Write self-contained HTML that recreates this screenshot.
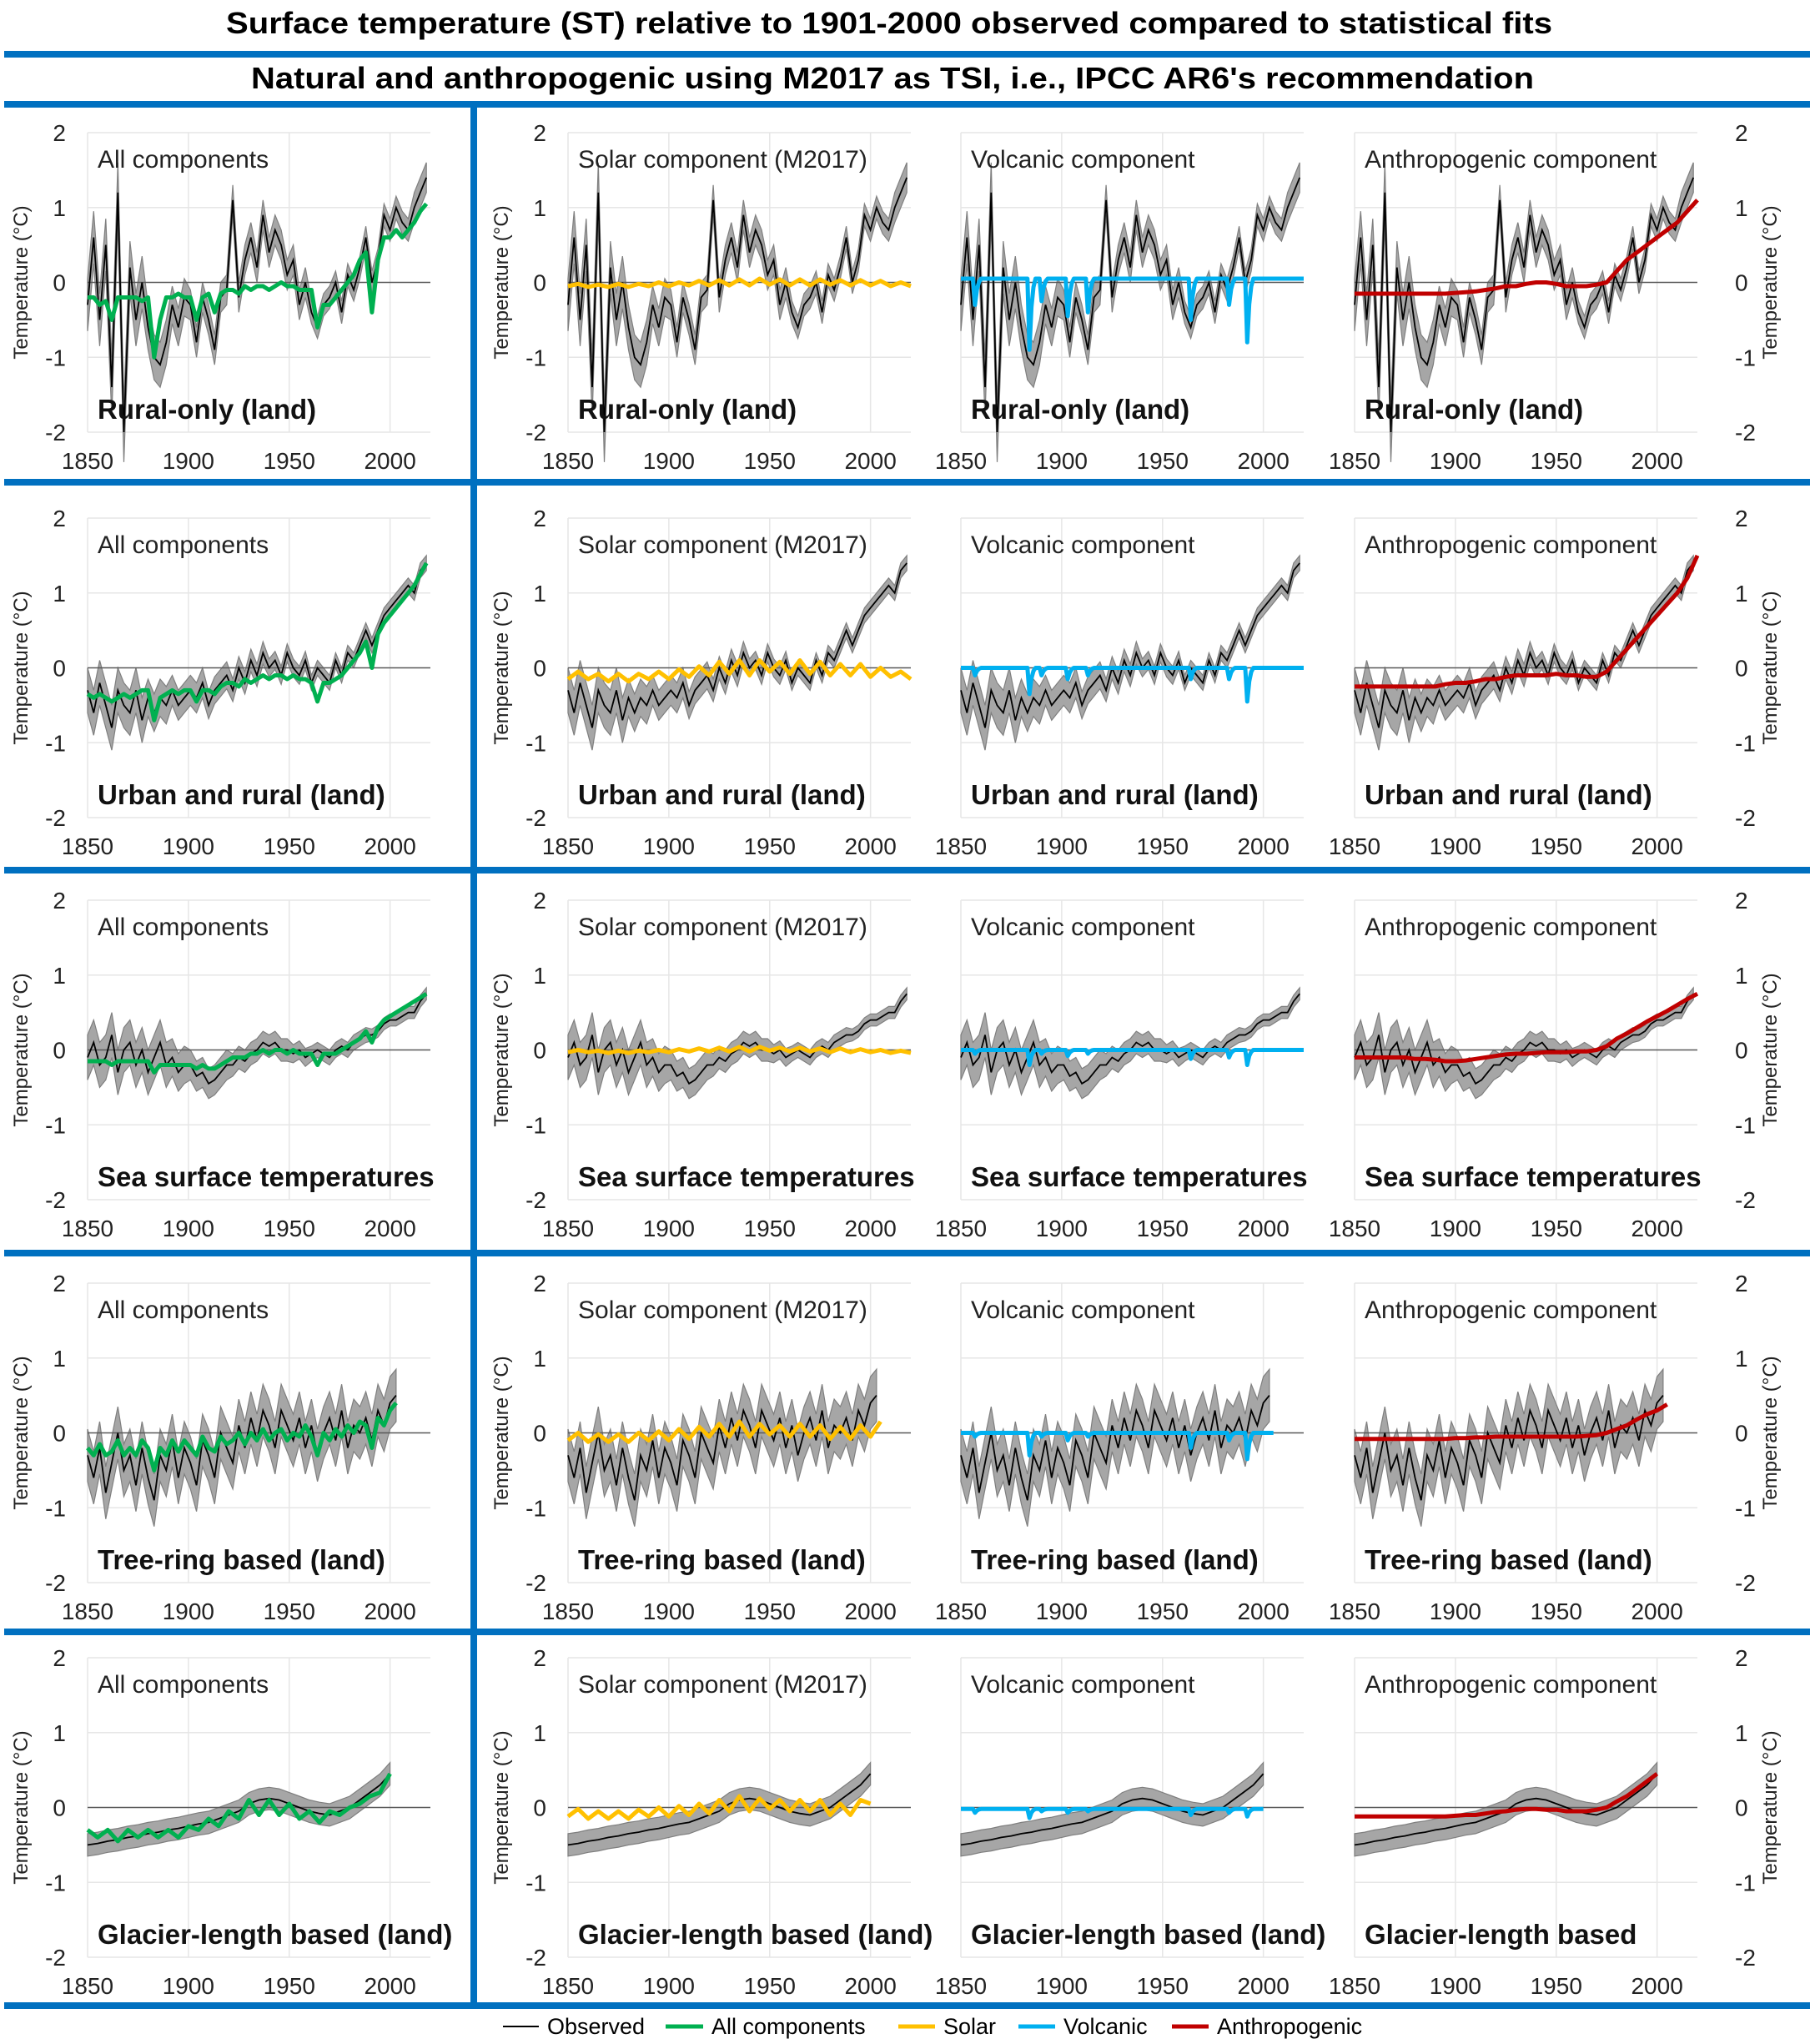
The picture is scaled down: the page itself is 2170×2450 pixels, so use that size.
<!DOCTYPE html>
<html><head><meta charset="utf-8">
<style>
html,body{margin:0;padding:0;background:#fff;}
svg{display:block;font-family:"Liberation Sans",sans-serif;}
</style></head>
<body>
<svg id="fig" width="2170" height="2450" viewBox="0 0 2170 2450" xmlns="http://www.w3.org/2000/svg">
<rect x="0" y="0" width="2170" height="2450" fill="#fff"/>
<text x="1066" y="40" text-anchor="middle" font-size="36" font-weight="bold" textLength="1590" lengthAdjust="spacingAndGlyphs">Surface temperature (ST) relative to 1901-2000  observed compared to statistical fits</text>
<rect x="5" y="61" width="2165" height="8" fill="#0070C0"/>
<text x="1070" y="106" text-anchor="middle" font-size="36" font-weight="bold" textLength="1538" lengthAdjust="spacingAndGlyphs">Natural and anthropogenic using M2017 as TSI, i.e., IPCC AR6's recommendation</text>
<rect x="5" y="121" width="2165" height="8" fill="#0070C0"/>
<rect x="5" y="574" width="2165" height="8" fill="#0070C0"/>
<rect x="5" y="1039" width="2165" height="8" fill="#0070C0"/>
<rect x="5" y="1498" width="2165" height="8" fill="#0070C0"/>
<rect x="5" y="1952" width="2165" height="8" fill="#0070C0"/>
<rect x="5" y="2400" width="2165" height="8" fill="#0070C0"/>
<rect x="564" y="125" width="8" height="2280" fill="#0070C0"/>
<g id="panels"></g>
<g>
<line x1="603" y1="2429" x2="646" y2="2429" stroke="#000" stroke-width="2"/>
<text x="656" y="2438" font-size="27">Observed</text>
<line x1="798" y1="2429" x2="843" y2="2429" stroke="#00B050" stroke-width="5"/>
<text x="853" y="2438" font-size="27">All components</text>
<line x1="1077" y1="2429" x2="1121" y2="2429" stroke="#FFC000" stroke-width="5"/>
<text x="1131" y="2438" font-size="27">Solar</text>
<line x1="1221" y1="2429" x2="1265" y2="2429" stroke="#00B0F0" stroke-width="5"/>
<text x="1275" y="2438" font-size="27">Volcanic</text>
<line x1="1405" y1="2429" x2="1449" y2="2429" stroke="#C00000" stroke-width="5"/>
<text x="1459" y="2438" font-size="27">Anthropogenic</text>
</g>
</svg>
<script>
// ---- data ----
const rowLabels = ['Rural-only (land)','Urban and rural (land)','Sea surface temperatures','Tree-ring based (land)','Glacier-length based (land)'];
const obsStep = [3,3,3,3,5];
const volcEnd = [2020,2020,2020,2005,2000];
const volcYears = [1857,1884,1890,1903,1913,1964,1983,1992];
const xTicks = [1850,1900,1950,2000];
const yTicks = [2,1,0,-1,-2];

const obsRural = [-0.3,0.6,-0.5,0.5,-1.4,1.2,-2.0,0.2,-0.5,0.0,-0.6,-1.0,-1.1,-0.8,-0.3,-0.6,-0.2,-0.3,-0.8,-0.2,-0.5,-0.9,-0.2,-0.1,1.1,-0.2,0.3,0.6,0.2,0.9,0.4,0.7,0.5,0.1,0.3,-0.3,0.0,-0.4,-0.6,-0.3,-0.2,0.0,-0.4,0.1,-0.1,0.2,0.6,0.0,0.3,0.9,0.7,1.0,0.8,0.7,1.0,1.2,1.4];
const obsUrban = [-0.3,-0.6,-0.2,-0.5,-0.8,-0.3,-0.5,-0.6,-0.3,-0.7,-0.4,-0.6,-0.4,-0.5,-0.3,-0.5,-0.4,-0.3,-0.4,-0.2,-0.5,-0.3,-0.2,-0.1,-0.3,0.0,-0.2,0.1,-0.1,0.2,0.0,0.1,-0.1,0.2,0.0,-0.1,0.1,-0.2,0.0,-0.1,-0.2,0.1,-0.1,0.2,0.1,0.3,0.5,0.3,0.5,0.7,0.8,0.9,1.0,1.1,1.0,1.3,1.4];
const obsSST = [-0.1,0.1,-0.2,-0.1,0.2,-0.3,0.0,0.1,-0.2,0.0,-0.3,-0.1,0.1,-0.2,-0.1,-0.3,-0.2,-0.2,-0.35,-0.3,-0.45,-0.4,-0.3,-0.2,-0.2,-0.1,-0.15,-0.05,0.0,0.1,0.05,0.1,0.0,0.0,-0.05,0.0,-0.1,-0.05,0.0,-0.05,-0.1,0.0,0.05,0.0,0.1,0.15,0.2,0.2,0.25,0.35,0.4,0.4,0.45,0.5,0.5,0.65,0.75];
const obsTree = [-0.3,-0.6,-0.2,-0.8,-0.4,0.0,-0.5,-0.3,-0.7,-0.2,-0.6,-0.9,-0.3,-0.5,-0.1,-0.6,-0.2,-0.4,-0.7,-0.1,-0.3,-0.6,0.0,-0.2,-0.4,0.1,-0.2,0.2,-0.1,0.3,0.1,-0.2,0.3,0.1,-0.1,0.2,-0.2,0.1,-0.3,0.0,0.2,-0.1,0.3,-0.2,0.1,0.0,0.2,-0.1,0.3,0.1,0.4,0.5];
const obsGlacier = [-0.5,-0.48,-0.45,-0.43,-0.4,-0.38,-0.35,-0.33,-0.3,-0.28,-0.25,-0.22,-0.2,-0.15,-0.1,-0.05,0.05,0.1,0.12,0.1,0.05,0.0,-0.05,-0.08,-0.1,-0.05,0.0,0.1,0.2,0.3,0.45];

const uncRural = [0.35,0.4,0.35,0.3,0.25,0.2,0.2,0.2,0.2,0.2,0.2,0.15,0.15,0.15,0.15,0.15,0.2,0.2];
const uncUrban = [0.3,0.3,0.3,0.25,0.2,0.2,0.18,0.15,0.15,0.12,0.12,0.1,0.1,0.1,0.1,0.1,0.1,0.1];
const uncSST = [0.3,0.3,0.3,0.3,0.25,0.2,0.2,0.15,0.15,0.15,0.12,0.1,0.1,0.1,0.08,0.08,0.08,0.08];
const uncTree = [0.35,0.35,0.35,0.35,0.35,0.35,0.35,0.35,0.35,0.35,0.35,0.35,0.35,0.35,0.35,0.35,0.35,0.35];
const uncGlacier = [0.15,0.15,0.15,0.15,0.15,0.15,0.15,0.15,0.15,0.15,0.15,0.15,0.15,0.15,0.15,0.15,0.15,0.15];

const allRural = [-0.2,-0.2,-0.3,-0.25,-0.5,-0.2,-0.2,-0.2,-0.2,-0.25,-0.2,-1.0,-0.5,-0.2,-0.2,-0.15,-0.2,-0.2,-0.5,-0.2,-0.15,-0.4,-0.15,-0.1,-0.1,-0.15,-0.05,-0.1,-0.05,-0.05,-0.1,-0.05,0.0,-0.05,-0.05,-0.1,-0.1,-0.1,-0.6,-0.3,-0.3,-0.2,-0.1,0.0,0.1,0.3,0.4,-0.4,0.3,0.6,0.6,0.7,0.6,0.7,0.8,0.95,1.05];
const allUrban = [-0.35,-0.4,-0.35,-0.4,-0.45,-0.4,-0.35,-0.4,-0.35,-0.3,-0.3,-0.7,-0.4,-0.35,-0.3,-0.35,-0.3,-0.3,-0.45,-0.3,-0.3,-0.35,-0.25,-0.2,-0.2,-0.25,-0.15,-0.2,-0.15,-0.1,-0.15,-0.1,-0.1,-0.15,-0.1,-0.15,-0.15,-0.2,-0.45,-0.2,-0.2,-0.15,-0.1,0.0,0.1,0.2,0.35,0.0,0.45,0.6,0.7,0.8,0.9,1.0,1.1,1.25,1.4];
const allSST = [-0.15,-0.15,-0.15,-0.15,-0.2,-0.15,-0.15,-0.15,-0.15,-0.15,-0.15,-0.3,-0.2,-0.2,-0.2,-0.2,-0.2,-0.2,-0.25,-0.2,-0.25,-0.25,-0.2,-0.15,-0.1,-0.1,-0.1,-0.05,-0.05,0.0,-0.05,0.0,0.0,-0.05,0.0,-0.05,-0.05,-0.05,-0.2,-0.05,-0.05,-0.05,0.0,0.05,0.1,0.15,0.25,0.1,0.3,0.4,0.45,0.5,0.55,0.6,0.65,0.7,0.75];
const allTree = [-0.2,-0.3,-0.15,-0.3,-0.25,-0.1,-0.3,-0.2,-0.3,-0.1,-0.2,-0.5,-0.2,-0.3,-0.1,-0.25,-0.1,-0.2,-0.3,-0.05,-0.2,-0.25,-0.05,-0.15,-0.1,0.0,-0.15,0.0,-0.1,0.05,-0.1,0.0,0.05,-0.1,0.0,-0.05,0.1,-0.05,-0.3,0.0,-0.1,0.05,-0.05,0.1,0.0,0.15,0.1,-0.2,0.2,0.1,0.3,0.4];
const allGlacier = [-0.3,-0.4,-0.3,-0.45,-0.3,-0.4,-0.3,-0.4,-0.3,-0.4,-0.25,-0.3,-0.15,-0.25,-0.05,-0.15,0.1,-0.1,0.1,-0.1,0.05,-0.15,-0.05,-0.2,-0.05,-0.1,0.0,0.05,0.15,0.2,0.45];

const solarRural = [-0.05,-0.02,-0.06,-0.03,-0.06,-0.02,-0.06,-0.02,-0.05,0.0,-0.05,0.0,-0.04,0.02,-0.04,0.03,-0.04,0.04,-0.04,0.05,-0.03,0.04,-0.04,0.04,-0.04,0.04,-0.03,0.03,-0.04,0.03,-0.04,0.02,-0.05,0.0,-0.05];
const solarUrban = [-0.15,-0.05,-0.15,-0.08,-0.18,-0.08,-0.18,-0.08,-0.15,-0.05,-0.15,-0.02,-0.12,0.02,-0.1,0.08,-0.08,0.1,-0.1,0.1,-0.05,0.08,-0.08,0.1,-0.08,0.08,-0.1,0.05,-0.1,0.05,-0.12,0.0,-0.12,-0.05,-0.15];
const solarSST = [-0.03,0.0,-0.03,-0.01,-0.04,-0.01,-0.04,-0.01,-0.03,0.0,-0.03,0.01,-0.02,0.02,-0.02,0.03,-0.02,0.04,-0.02,0.04,-0.01,0.03,-0.02,0.03,-0.02,0.02,-0.03,0.02,-0.03,0.01,-0.03,0.0,-0.04,-0.01,-0.04];
const solarTree = [-0.1,0.0,-0.12,-0.02,-0.12,-0.02,-0.12,0.0,-0.1,0.02,-0.1,0.05,-0.08,0.08,-0.05,0.12,-0.05,0.15,-0.05,0.12,-0.02,0.1,-0.05,0.12,-0.05,0.1,-0.08,0.08,-0.08,0.1,-0.05,0.15];
const solarGlacier = [-0.12,-0.02,-0.15,-0.05,-0.15,-0.05,-0.15,-0.03,-0.12,0.0,-0.12,0.02,-0.1,0.05,-0.08,0.1,-0.05,0.15,-0.05,0.12,-0.02,0.1,-0.05,0.1,-0.05,0.1,-0.1,0.05,-0.1,0.1,0.05];

const anthroRural = [-0.15,-0.15,-0.15,-0.15,-0.15,-0.15,-0.15,-0.15,-0.15,-0.15,-0.14,-0.13,-0.12,-0.1,-0.08,-0.05,-0.05,-0.02,0.0,0.0,-0.02,-0.05,-0.05,-0.05,-0.03,0.0,0.15,0.3,0.4,0.5,0.6,0.7,0.8,0.95,1.1];
const anthroUrban = [-0.25,-0.25,-0.25,-0.25,-0.25,-0.25,-0.25,-0.25,-0.25,-0.22,-0.2,-0.2,-0.18,-0.15,-0.15,-0.12,-0.1,-0.1,-0.1,-0.1,-0.08,-0.1,-0.1,-0.12,-0.12,-0.05,0.1,0.25,0.4,0.55,0.7,0.85,1.0,1.2,1.5];
const anthroSST = [-0.1,-0.1,-0.1,-0.1,-0.1,-0.1,-0.12,-0.12,-0.13,-0.15,-0.15,-0.14,-0.12,-0.1,-0.08,-0.06,-0.05,-0.05,-0.04,-0.03,-0.03,-0.03,-0.02,-0.02,0.0,0.05,0.15,0.22,0.3,0.38,0.45,0.52,0.6,0.68,0.75];
const anthroTree = [-0.08,-0.08,-0.08,-0.08,-0.08,-0.08,-0.08,-0.08,-0.08,-0.08,-0.07,-0.07,-0.06,-0.06,-0.05,-0.05,-0.05,-0.05,-0.05,-0.05,-0.05,-0.05,-0.05,-0.04,-0.03,0.0,0.05,0.1,0.18,0.25,0.3,0.38];
const anthroGlacier = [-0.12,-0.12,-0.12,-0.12,-0.12,-0.12,-0.12,-0.12,-0.12,-0.12,-0.11,-0.1,-0.1,-0.08,-0.06,-0.05,-0.03,-0.02,-0.02,-0.03,-0.03,-0.05,-0.05,-0.05,-0.03,0.0,0.08,0.15,0.25,0.35,0.45];

const volcBase = [0.05,0.0,0.0,0.0,-0.02];
const volcRural = [-0.35,-0.95,-0.3,-0.5,-0.45,-0.55,-0.35,-0.85];
const volcUrban = [-0.1,-0.35,-0.1,-0.15,-0.1,-0.15,-0.15,-0.45];
const volcSST = [-0.05,-0.2,-0.05,-0.08,-0.05,-0.12,-0.1,-0.2];
const volcTree = [-0.05,-0.3,-0.05,-0.1,-0.05,-0.2,-0.1,-0.35];
const volcGlacier = [-0.05,-0.12,-0.03,-0.05,-0.03,-0.08,-0.05,-0.1];

const OBS = [obsRural,obsUrban,obsSST,obsTree,obsGlacier];
const UNC = [uncRural,uncUrban,uncSST,uncTree,uncGlacier];
const ALL = [allRural,allUrban,allSST,allTree,allGlacier];
const SOLAR = [solarRural,solarUrban,solarSST,solarTree,solarGlacier];
const ANTHRO = [anthroRural,anthroUrban,anthroSST,anthroTree,anthroGlacier];
const VOLC = [volcRural,volcUrban,volcSST,volcTree,volcGlacier];

// ---- layout ----
const NS = 'http://www.w3.org/2000/svg';
const colLeft = [105,681,1152,1624];
const rowTop = [159,621,1079,1538,1987];
const PW = 411, PH = 359;
const colTitles = ['All components','Solar component (M2017)','Volcanic component','Anthropogenic component'];
const colNames = ['all','solar','volcanic','anthropogenic'];
const colColors = ['#00B050','#FFC000','#00B0F0','#C00000'];
const rowNames = ['rural','urban','sst','tree-ring','glacier'];

function mk(tag, attrs, parent){
  const e = document.createElementNS(NS, tag);
  for (const k in attrs) e.setAttribute(k, attrs[k]);
  parent.appendChild(e);
  return e;
}
function pathD(pts){ return pts.map((p,i)=>(i?'L':'M')+p[0].toFixed(1)+','+p[1].toFixed(1)).join(''); }

const root = document.getElementById('panels');
for (let r=0;r<5;r++){
  for (let c=0;c<4;c++){
    const L = colLeft[c], T = rowTop[r];
    const xs = y => L + (y-1850)/170*PW;
    const ys = v => T + (2-v)/4*PH;
    const g = mk('g',{},root);
    
    
    for (const t of xTicks){ if(t>1850) mk('line',{x1:xs(t),x2:xs(t),y1:T,y2:T+PH,stroke:'#e6e6e6','stroke-width':1.5},g); }
    for (const t of yTicks){ if(t!==0) mk('line',{x1:L,x2:L+PW,y1:ys(t),y2:ys(t),stroke:'#e6e6e6','stroke-width':1.5},g); }
    mk('line',{x1:L,x2:L,y1:T,y2:T+PH,stroke:'#e6e6e6','stroke-width':1.5},g);
    const obs = OBS[r], unc = UNC[r], st = obsStep[r];
    const up = obs.map((v,i)=>{const yr=1850+i*st; return [xs(yr), ys(v+unc[Math.floor((yr-1850)/10)])];});
    const lo = obs.map((v,i)=>{const yr=1850+i*st; return [xs(yr), ys(v-unc[Math.floor((yr-1850)/10)])];});
    const band = mk('path',{d:pathD(up.concat(lo.reverse()))+'Z',fill:'#a6a6a6',stroke:'#7f7f7f','stroke-width':1.2},g);
    
    
    mk('line',{x1:L,x2:L+PW,y1:ys(0),y2:ys(0),stroke:'#595959','stroke-width':1.5},g);
    const ol = mk('path',{d:pathD(obs.map((v,i)=>[xs(1850+i*st),ys(v)])),fill:'none',stroke:'#000','stroke-width':1.8},g);
    
    
    let pts;
    if (c===0) pts = ALL[r].map((v,i)=>[xs(1850+i*st),ys(v)]);
    else if (c===1) pts = SOLAR[r].map((v,i)=>[xs(1850+i*5),ys(v)]);
    else if (c===3) pts = ANTHRO[r].map((v,i)=>[xs(1850+i*5),ys(v)]);
    else {
      pts = [];
      for (let yr=1850; yr<=volcEnd[r]; yr++){
        let v = volcBase[r];
        volcYears.forEach((vy,k)=>{ if(yr===vy) v+=VOLC[r][k]; else if(yr===vy+1) v+=VOLC[r][k]*0.4; else if(yr===vy+2) v+=VOLC[r][k]*0.12; });
        pts.push([xs(yr),ys(v)]);
      }
    }
    const fl = mk('path',{d:pathD(pts),fill:'none',stroke:colColors[c],'stroke-width':5,'stroke-linejoin':'round'},g);
    
    
    for (const t of xTicks){
      const tx = mk('text',{x:xs(t),y:T+PH+44,'text-anchor':'middle','font-size':28,fill:'#222'},g);
      tx.textContent = t;
      
      
    }
    if (c<2 || c===3){
      for (const t of yTicks){
        const tx = c===3
          ? mk('text',{x:L+PW+45,y:ys(t)+10,'text-anchor':'start','font-size':28,fill:'#222'},g)
          : mk('text',{x:L-26,y:ys(t)+10,'text-anchor':'end','font-size':28,fill:'#222'},g);
        tx.textContent = t;
        
        
      }
      const ax = c===3 ? L+PW+95 : L-72;
      const yt = mk('text',{x:ax,y:T+PH/2,'text-anchor':'middle','font-size':24,fill:'#222',transform:'rotate(-90 '+ax+' '+(T+PH/2)+')'},g);
      yt.textContent = 'Temperature (°C)';
      
      
    }
    const pt = mk('text',{x:L+12,y:T+42,'font-size':30,fill:'#222'},g);
    pt.textContent = colTitles[c];
    
    
    const lbl = (r===4 && c===3) ? 'Glacier-length based' : rowLabels[r];
    const bl = mk('text',{x:L+12,y:T+343,'font-size':33,'font-weight':'bold',fill:'#111'},g);
    bl.textContent = lbl;
    
    
  }
}
</script>
</body></html>
